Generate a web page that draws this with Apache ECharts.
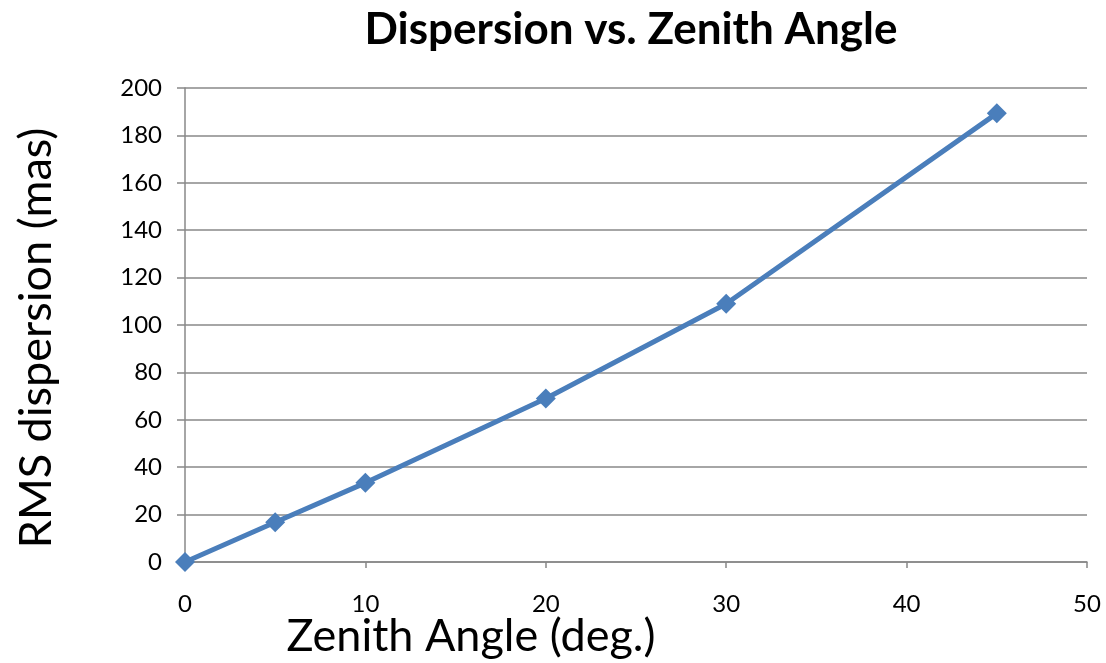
<!DOCTYPE html>
<html><head><meta charset="utf-8">
<script src="https://cdn.jsdelivr.net/npm/echarts@6/dist/echarts.min.js"></script>
<style>html,body{margin:0;padding:0;background:#fff}#c{width:1106px;height:663px}</style>
</head><body><div id="c"></div>
<script>
const zenithAngles = [0, 5, 10, 20, 30, 45];
const rmsDispersion = [0, 16.8, 33.4, 69, 109, 189.3];
const titleText = 'Dispersion vs. Zenith Angle';
const xName = 'Zenith Angle (deg.)';
const yName = 'RMS dispersion (mas)';
const FONT = 'Lato';

const chart = echarts.init(document.getElementById('c'), null, {renderer: 'canvas'});
chart.setOption({
  animation: false,
  backgroundColor: '#fff',
  title: {
    text: titleText, left: 626, top: 3, textAlign: 'center',
    textStyle: {fontFamily: FONT, fontWeight: 'bold', fontSize: 44, color: '#000'}
  },
  grid: {left: 185, right: 19, top: 88, bottom: 101, containLabel: false},
  xAxis: {
    type: 'value', min: 0, max: 50, interval: 10,
    axisLine: {show: true, onZero: false, lineStyle: {color: '#888', width: 1.5}},
    axisTick: {show: true, length: 6, lineStyle: {color: '#888', width: 1.5}},
    axisLabel: {fontFamily: FONT, fontSize: 24, color: '#000', margin: 30},
    splitLine: {show: false}
  },
  yAxis: {
    type: 'value', min: 0, max: 200, interval: 20,
    axisLine: {show: true, lineStyle: {color: '#888', width: 1.5}},
    axisTick: {show: true, length: 8, lineStyle: {color: '#888', width: 1.5}},
    axisLabel: {fontFamily: FONT, fontSize: 24, color: '#000', margin: 23},
    splitLine: {show: true, lineStyle: {color: '#888', width: 1.5}}
  },
  graphic: [
    {type: 'text', x: 471, y: 636, style: {text: xName, fontFamily: FONT, fontSize: 45, fill: '#000', textAlign: 'center', textVerticalAlign: 'middle'}},
    {type: 'text', rotation: Math.PI / 2, x: 36, y: 338, style: {text: yName, fontFamily: FONT, fontSize: 45, fill: '#000', textAlign: 'center', textVerticalAlign: 'middle'}}
  ],
  series: [{
    type: 'line',
    data: zenithAngles.map((x, i) => [x, rmsDispersion[i]]),
    lineStyle: {color: '#4a7ebb', width: 5},
    itemStyle: {color: '#4a7ebb'},
    symbol: 'diamond', symbolSize: 20, showSymbol: true
  }]
});
</script></body></html>
